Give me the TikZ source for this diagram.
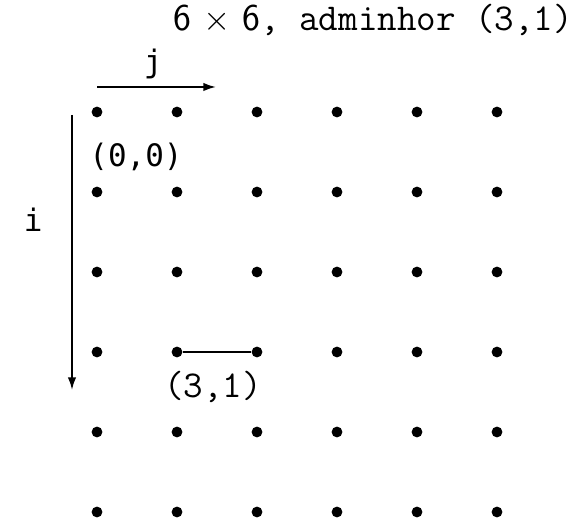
\documentclass[tikz,border=0pt]{standalone}
\usepackage{fontspec}
\usepackage{tikz}
\usetikzlibrary{arrows.meta,positioning}
\newfontfamily\dvmono{DejaVu Sans Mono}
\tikzset{
  gridpt/.style={circle,fill=black,inner sep=0pt,minimum size=0.27cm},
  lbl/.style={font=\fontsize{27}{32}\selectfont\ttfamily},
  axlbl/.style={font=\fontsize{22}{26}\selectfont\dvmono}
}
\begin{document}
\begin{tikzpicture}[>={Latex[length=9pt,width=6pt]},line width=1.3pt]
  \useasboundingbox (0,0) rectangle (14.625,-13);
  % lattice points
  \foreach \i in {0,...,5}
    \foreach \j in {0,...,5}
      \node[gridpt] (d-\i-\j) at (2.425+2*\j,-2.8-2*\i) {};
  \node[lbl,anchor=east,inner sep=0pt] (title) at (14.35,-0.5) {{\sffamily 6 $\times$ 6}, adminhor (3,1)};
  % axes
  \coordinate (jstart) at (2.425,-2.175);
  \coordinate (jend) at (5.4,-2.175);
  \coordinate (istart) at (1.8,-2.875);
  \coordinate (iend) at (1.8,-9.75);
  \draw[->] (jstart) -- (jend);
  \draw[->] (istart) -- (iend);
  \node[axlbl] (jlabel) at (3.83,-1.6) {j};
  \node[axlbl] (ilabel) at (0.83,-5.5) {i};
  \node[axlbl] (origin) at (3.4,-3.93) {(0,0)};
  % the pair
  \draw (d-3-1) -- (d-3-2);
  \node[lbl] (pair) at (5.33,-9.68) {(3,1)};
\end{tikzpicture}
\end{document}
